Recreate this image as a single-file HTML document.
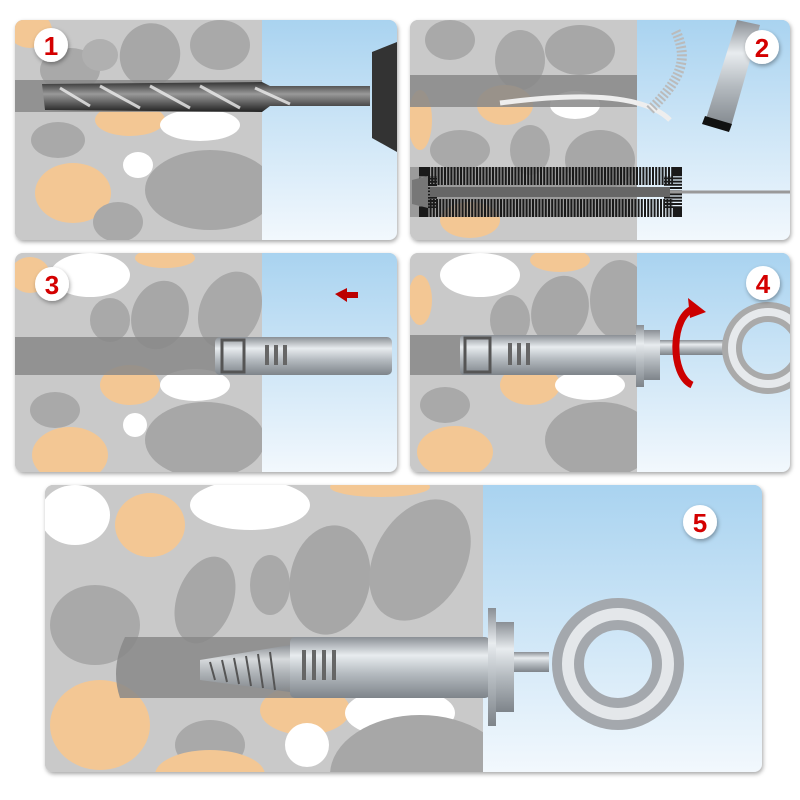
<!DOCTYPE html><html><head><style>html,body{margin:0;padding:0;background:#fff;width:800px;height:800px;overflow:hidden}</style></head><body>
<svg width="800" height="800" viewBox="0 0 800 800" xmlns="http://www.w3.org/2000/svg" font-family="Liberation Sans, sans-serif">
<defs>
<linearGradient id="sky" x1="0" y1="0" x2="0" y2="1"><stop offset="0" stop-color="#a9d3f0"/><stop offset="1" stop-color="#f2f8fd"/></linearGradient>
<linearGradient id="metal" x1="0" y1="0" x2="0" y2="1"><stop offset="0" stop-color="#8a8f95"/><stop offset=".3" stop-color="#e8ecef"/><stop offset=".6" stop-color="#b5bbc0"/><stop offset="1" stop-color="#7e848a"/></linearGradient>
<linearGradient id="dark" x1="0" y1="0" x2="0" y2="1"><stop offset="0" stop-color="#333"/><stop offset=".4" stop-color="#999"/><stop offset="1" stop-color="#222"/></linearGradient>
<filter id="sh"><feDropShadow dx="1" dy="2" stdDeviation="2" flood-color="#000" flood-opacity=".35"/></filter>
<clipPath id="c1"><rect x="15" y="20" width="382" height="220" rx="8"/></clipPath>
<clipPath id="c2"><rect x="410" y="20" width="380" height="220" rx="8"/></clipPath>
<clipPath id="c3"><rect x="15" y="253" width="382" height="219" rx="8"/></clipPath>
<clipPath id="c4"><rect x="410" y="253" width="380" height="219" rx="8"/></clipPath>
<clipPath id="c5"><rect x="45" y="485" width="717" height="287" rx="8"/></clipPath>
</defs>
<g filter="url(#sh)">
<rect x="15" y="20" width="382" height="220" rx="8" fill="#ccc"/>
<rect x="410" y="20" width="380" height="220" rx="8" fill="#ccc"/>
<rect x="15" y="253" width="382" height="219" rx="8" fill="#ccc"/>
<rect x="410" y="253" width="380" height="219" rx="8" fill="#ccc"/>
<rect x="45" y="485" width="717" height="287" rx="8" fill="#ccc"/>
</g>
<g clip-path="url(#c1)">
<rect x="15" y="20" width="247" height="220" fill="#c9c9c9"/>
<ellipse cx="30" cy="30" rx="22" ry="18" fill="#f3c794"/>
<ellipse cx="70" cy="70" rx="30" ry="22" fill="#a9a9a9"/>
<ellipse cx="100" cy="55" rx="18" ry="16" fill="#b0b0b0"/>
<ellipse cx="150" cy="55" rx="30" ry="32" fill="#a7a7a7" transform="rotate(20 150 55)"/>
<ellipse cx="220" cy="45" rx="30" ry="25" fill="#a9a9a9"/>
<ellipse cx="130" cy="120" rx="35" ry="16" fill="#f3c794"/>
<ellipse cx="200" cy="125" rx="40" ry="16" fill="#fff"/>
<ellipse cx="58" cy="140" rx="27" ry="18" fill="#a9a9a9"/>
<ellipse cx="73" cy="193" rx="38" ry="30" fill="#f3c794"/>
<ellipse cx="138" cy="165" rx="15" ry="13" fill="#fff"/>
<ellipse cx="210" cy="190" rx="65" ry="40" fill="#a7a7a7"/>
<ellipse cx="118" cy="222" rx="25" ry="20" fill="#a9a9a9"/>
<rect x="262" y="20" width="135" height="220" fill="url(#sky)"/>
<rect x="15" y="80" width="247" height="32" fill="#888" opacity=".85"/>
<path d="M42 84 L262 82 L270 86 L370 86 L370 106 L270 106 L262 112 L45 110 Z" fill="url(#dark)"/>
<g stroke="#eee" stroke-width="3" opacity=".8"><line x1="60" y1="88" x2="90" y2="106"/><line x1="100" y1="86" x2="140" y2="108"/><line x1="150" y1="86" x2="190" y2="108"/><line x1="200" y1="86" x2="240" y2="108"/><line x1="255" y1="88" x2="290" y2="104"/></g>
<path d="M372 52 L397 42 L397 152 L372 138 Z" fill="#333"/>
</g>
<g clip-path="url(#c2)">
<rect x="410" y="20" width="227" height="220" fill="#c9c9c9"/>
<ellipse cx="450" cy="40" rx="25" ry="20" fill="#a9a9a9"/>
<ellipse cx="520" cy="60" rx="25" ry="30" fill="#a9a9a9"/>
<ellipse cx="580" cy="50" rx="35" ry="25" fill="#a7a7a7"/>
<ellipse cx="505" cy="105" rx="28" ry="20" fill="#f3c794"/>
<ellipse cx="575" cy="105" rx="25" ry="14" fill="#fff"/>
<ellipse cx="460" cy="150" rx="30" ry="20" fill="#a9a9a9"/>
<ellipse cx="530" cy="150" rx="20" ry="25" fill="#a9a9a9"/>
<ellipse cx="600" cy="160" rx="35" ry="30" fill="#a7a7a7"/>
<ellipse cx="420" cy="120" rx="12" ry="30" fill="#f3c794"/>
<ellipse cx="470" cy="220" rx="30" ry="18" fill="#f3c794"/>
<rect x="637" y="20" width="153" height="220" fill="url(#sky)"/>
<rect x="410" y="75" width="227" height="32" fill="#888" opacity=".85"/>
<path d="M500 103 C560 95 640 90 670 120" stroke="#eee" stroke-width="5" fill="none"/>
<path d="M650 110 C680 80 690 60 675 30" stroke="#bbb" stroke-width="10" fill="none" stroke-dasharray="2 2"/>
<path d="M737 20 L760 25 L730 130 L705 122 Z" fill="url(#metal)"/>
<path d="M705 116 L732 124 L729 132 L702 124 Z" fill="#111"/>
<rect x="410" y="167" width="227" height="50" fill="#888" opacity=".7"/>
<rect x="428" y="176" width="245" height="32" fill="none" stroke="#1a1a1a" stroke-width="18" stroke-dasharray="2 1.2"/>
<rect x="430" y="187" width="240" height="10" fill="#666"/>
<path d="M412 180 L428 176 L428 208 L412 204 Z" fill="#777"/>
<line x1="670" y1="192" x2="790" y2="192" stroke="#999" stroke-width="3"/>
</g>
<g clip-path="url(#c3)">
<rect x="15" y="253" width="247" height="219" fill="#c9c9c9"/>
<ellipse cx="30" cy="275" rx="20" ry="18" fill="#f3c794"/>
<ellipse cx="90" cy="275" rx="40" ry="22" fill="#fff"/>
<ellipse cx="165" cy="258" rx="30" ry="10" fill="#f3c794"/>
<ellipse cx="110" cy="320" rx="20" ry="22" fill="#a9a9a9"/>
<ellipse cx="160" cy="315" rx="28" ry="35" fill="#a7a7a7" transform="rotate(20 160 315)"/>
<ellipse cx="230" cy="310" rx="30" ry="40" fill="#a9a9a9" transform="rotate(25 230 310)"/>
<ellipse cx="130" cy="385" rx="30" ry="20" fill="#f3c794"/>
<ellipse cx="195" cy="385" rx="35" ry="16" fill="#fff"/>
<ellipse cx="55" cy="410" rx="25" ry="18" fill="#a9a9a9"/>
<ellipse cx="70" cy="455" rx="38" ry="28" fill="#f3c794"/>
<ellipse cx="135" cy="425" rx="12" ry="12" fill="#fff"/>
<ellipse cx="205" cy="440" rx="60" ry="38" fill="#a7a7a7"/>
<rect x="262" y="253" width="135" height="219" fill="url(#sky)"/>
<rect x="15" y="337" width="247" height="38" fill="#888" opacity=".85"/>
<rect x="215" y="337" width="177" height="38" rx="5" fill="url(#metal)"/>
<g fill="#666"><rect x="265" y="345" width="4" height="20"/><rect x="274" y="345" width="4" height="20"/><rect x="283" y="345" width="4" height="20"/></g>
<rect x="222" y="340" width="22" height="32" fill="none" stroke="#555" stroke-width="3"/>
<path d="M335 294 L347 288 L347 292 L358 292 L358 298 L347 298 L347 302 Z" fill="#b00"/>
</g>
<g clip-path="url(#c4)">
<rect x="410" y="253" width="227" height="219" fill="#c9c9c9"/>
<ellipse cx="480" cy="275" rx="40" ry="22" fill="#fff"/>
<ellipse cx="560" cy="260" rx="30" ry="12" fill="#f3c794"/>
<ellipse cx="420" cy="300" rx="12" ry="25" fill="#f3c794"/>
<ellipse cx="510" cy="320" rx="20" ry="25" fill="#a9a9a9"/>
<ellipse cx="560" cy="310" rx="28" ry="35" fill="#a7a7a7" transform="rotate(20 560 310)"/>
<ellipse cx="620" cy="300" rx="30" ry="40" fill="#a9a9a9"/>
<ellipse cx="530" cy="385" rx="30" ry="20" fill="#f3c794"/>
<ellipse cx="590" cy="385" rx="35" ry="15" fill="#fff"/>
<ellipse cx="445" cy="405" rx="25" ry="18" fill="#a9a9a9"/>
<ellipse cx="455" cy="452" rx="38" ry="26" fill="#f3c794"/>
<ellipse cx="600" cy="440" rx="55" ry="38" fill="#a7a7a7"/>
<rect x="637" y="253" width="153" height="219" fill="url(#sky)"/>
<rect x="410" y="335" width="227" height="40" fill="#888" opacity=".85"/>
<rect x="460" y="335" width="180" height="40" rx="4" fill="url(#metal)"/>
<g fill="#666"><rect x="508" y="343" width="4" height="22"/><rect x="517" y="343" width="4" height="22"/><rect x="526" y="343" width="4" height="22"/></g>
<rect x="465" y="338" width="25" height="34" fill="none" stroke="#555" stroke-width="3"/>
<rect x="636" y="325" width="8" height="62" fill="url(#metal)"/>
<rect x="644" y="330" width="16" height="50" fill="url(#metal)"/>
<rect x="660" y="340" width="70" height="15" fill="url(#metal)"/>
<circle cx="768" cy="348" r="36" fill="none" stroke="#aaa" stroke-width="20"/>
<circle cx="768" cy="348" r="36" fill="none" stroke="#e6e9ec" stroke-width="8"/>
<path d="M695 308 C670 315 670 375 692 385" stroke="#c00" stroke-width="7" fill="none"/>
<path d="M688 298 L706 312 L690 318 Z" fill="#c00"/>
</g>
<g clip-path="url(#c5)">
<rect x="45" y="485" width="438" height="287" fill="#c9c9c9"/>
<ellipse cx="75" cy="515" rx="35" ry="30" fill="#fff"/>
<ellipse cx="150" cy="525" rx="35" ry="32" fill="#f3c794"/>
<ellipse cx="250" cy="505" rx="60" ry="25" fill="#fff"/>
<ellipse cx="380" cy="487" rx="50" ry="10" fill="#f3c794"/>
<ellipse cx="95" cy="625" rx="45" ry="40" fill="#a9a9a9"/>
<ellipse cx="205" cy="600" rx="28" ry="45" fill="#a7a7a7" transform="rotate(20 205 600)"/>
<ellipse cx="270" cy="585" rx="20" ry="30" fill="#a9a9a9"/>
<ellipse cx="330" cy="580" rx="40" ry="55" fill="#a7a7a7" transform="rotate(10 330 580)"/>
<ellipse cx="420" cy="560" rx="45" ry="65" fill="#a9a9a9" transform="rotate(30 420 560)"/>
<ellipse cx="305" cy="710" rx="45" ry="25" fill="#f3c794"/>
<ellipse cx="400" cy="713" rx="55" ry="25" fill="#fff"/>
<ellipse cx="100" cy="725" rx="50" ry="45" fill="#f3c794"/>
<ellipse cx="210" cy="745" rx="35" ry="25" fill="#a9a9a9"/>
<ellipse cx="210" cy="775" rx="55" ry="25" fill="#f3c794"/>
<ellipse cx="307" cy="745" rx="22" ry="22" fill="#fff"/>
<ellipse cx="420" cy="775" rx="90" ry="60" fill="#a7a7a7"/>
<rect x="483" y="485" width="279" height="287" fill="url(#sky)"/>
<path d="M125 637 L483 637 L483 698 L120 698 Q110 668 125 637 Z" fill="#888" opacity=".85"/>
<rect x="290" y="637" width="200" height="61" rx="5" fill="url(#metal)"/>
<g fill="#666"><rect x="302" y="650" width="4" height="30"/><rect x="312" y="650" width="4" height="30"/><rect x="322" y="650" width="4" height="30"/><rect x="332" y="650" width="4" height="30"/></g>
<path d="M200 660 L290 645 L290 692 L200 680 Z" fill="url(#metal)" opacity=".8"/>
<g stroke="#555" stroke-width="2"><line x1="210" y1="662" x2="215" y2="680"/><line x1="222" y1="660" x2="227" y2="682"/><line x1="234" y1="658" x2="239" y2="684"/><line x1="246" y1="656" x2="251" y2="686"/><line x1="258" y1="654" x2="263" y2="688"/><line x1="270" y1="652" x2="275" y2="690"/></g>
<rect x="488" y="608" width="8" height="118" fill="url(#metal)"/>
<rect x="496" y="622" width="18" height="90" fill="url(#metal)"/>
<rect x="514" y="652" width="35" height="20" fill="url(#metal)"/>
<circle cx="618" cy="664" r="50" fill="none" stroke="#a4a8ad" stroke-width="32"/>
<circle cx="618" cy="664" r="50" fill="none" stroke="#e4e7ea" stroke-width="12"/>
</g>
<g filter="url(#sh)" fill="#fff">
<circle cx="51" cy="45" r="17"/><circle cx="762" cy="47" r="17"/>
<circle cx="52" cy="284" r="17"/><circle cx="763" cy="283" r="17"/>
<circle cx="700" cy="522" r="17"/>
</g>
<g fill="#d40000" font-weight="bold" font-size="26" text-anchor="middle">
<text x="51" y="55">1</text><text x="762" y="57">2</text>
<text x="52" y="294">3</text><text x="763" y="293">4</text>
<text x="700" y="532">5</text>
</g>
</svg>
</body></html>
